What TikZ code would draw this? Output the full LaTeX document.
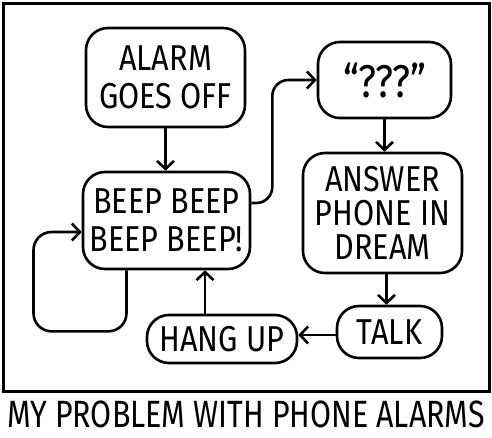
\documentclass[tikz,border=0pt]{standalone}
\usepackage{fontspec}
\newfontfamily\hand{Fira Sans}[FakeStretch=0.85]
\newfontfamily\capfont{Fira Sans}[FakeStretch=0.8]
\usetikzlibrary{arrows.meta}
\begin{document}
\begin{tikzpicture}[x=1pt,y=-1pt,
  box/.style={draw, line width=2.6pt, rounded corners=22pt, align=center,
    font=\hand\fontsize{36}{38}\selectfont, inner sep=0pt},
  arr/.style={line width=2.6pt, -{Straight Barb[length=8pt,width=17pt,line width=2.6pt]}},
  frame/.style={draw, line width=3pt}]
\useasboundingbox (0,0) rectangle (492,437);
\draw[frame] (3,3) rectangle (489,391);
\node[box, minimum width=159pt, minimum height=99pt] (alarm) at (165.5,77.5) {ALARM\\GOES OFF};
\node[box, minimum width=167pt, minimum height=97pt] (beep) at (166.5,220.5) {BEEP BEEP\\BEEP BEEP!};
\node[box, minimum width=133pt, minimum height=76pt, font=\hand\fontsize{46}{48}\selectfont] (q) at (384.5,80) {“???”};
\node[box, minimum width=159pt, minimum height=120pt, font=\hand\fontsize{36}{34}\selectfont] (ans) at (382.5,213) {ANSWER\\PHONE IN\\DREAM};
\node[box, minimum width=105pt, minimum height=52pt] (talk) at (389.5,332) {TALK};
\node[box, minimum width=150pt, minimum height=48pt] (hang) at (222,339) {HANG UP};
\node[font=\capfont\fontsize{38}{40}\selectfont] (cap) at (246,414) {MY PROBLEM WITH PHONE ALARMS};
\draw[arr] (alarm.south) -- (alarm.south |- beep.north);
\draw[arr, rounded corners=16pt] ([yshift=17.5pt]beep.east) -- ++(21,0) |- (q.west);
\draw[arr] (q.south) -- (q.south |- ans.north);
\draw[arr] ([xshift=4pt]ans.south) -- ([xshift=4pt]ans.south |- talk.north);
\draw[arr] ([yshift=-3pt]talk.west) -- ([yshift=-3pt]talk.west -| hang.east);
\draw[arr] ([xshift=-17pt]hang.north) -- ([xshift=-17pt]hang.north |- beep.south);
\draw[arr, rounded corners=18pt] ([xshift=-40pt]beep.south) -- ++(0,61) -- ++(-93,0) |- ([yshift=-11.5pt]beep.west);
\end{tikzpicture}
\end{document}
